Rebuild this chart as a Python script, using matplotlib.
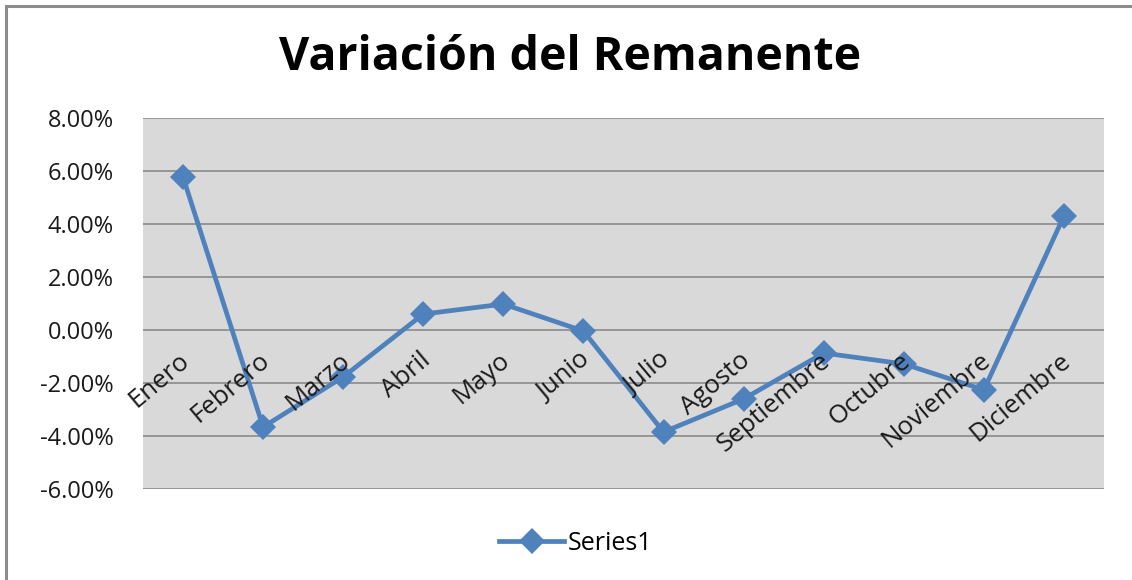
import matplotlib.pyplot as plt
from matplotlib.patches import Rectangle
from matplotlib.ticker import PercentFormatter
from matplotlib.lines import Line2D

# datos
meses = ["Enero", "Febrero", "Marzo", "Abril", "Mayo", "Junio", "Julio",
         "Agosto", "Septiembre", "Octubre", "Noviembre", "Diciembre"]
variacion = [5.77, -3.66, -1.77, 0.60, 0.98, -0.04, -3.85,
             -2.60, -0.87, -1.28, -2.26, 4.30]
y_ticks = [-6, -4, -2, 0, 2, 4, 6, 8]

azul = "#4F81BD"
plt.rcParams['font.family'] = ['Open Sans', 'DejaVu Sans']
plt.rcParams['axes.unicode_minus'] = False

fig = plt.figure(figsize=(11.32, 5.8), dpi=100)
ax = fig.add_axes([143 / 1132, 1 - 489 / 580, (1104 - 143) / 1132, (489 - 118) / 580])

# marco del grafico
fig.patches.append(Rectangle((6 / 1132, -0.2), 1.2, 1.2 - 6 / 580,
                             transform=fig.transFigure, fill=False,
                             edgecolor="#8c8c8c", linewidth=2.2))

ax.set_facecolor("#D9D9D9")
x = list(range(len(meses)))
ax.plot(x, variacion, color=azul, linewidth=3.4, marker="D", markersize=13,
        markeredgewidth=0, zorder=3)

ax.set_xlim(-0.5, len(meses) - 0.5)
ax.set_ylim(-6, 8)
ax.set_yticks(y_ticks)
ax.yaxis.set_major_formatter(PercentFormatter(decimals=2))
ax.tick_params(axis='y', length=0, pad=21, labelsize=17, colors="#1a1a1a")
ax.set_xticks([])
ax.grid(axis='y', color="#8a8a8a", linewidth=1.2, zorder=1)
ax.set_axisbelow(True)
for s in ax.spines.values():
    s.set_visible(False)

# etiquetas de categoria junto al eje en 0 (encima de la linea, como en Excel)
for i, m in enumerate(meses):
    ax.annotate(m, xy=(i, 0), xytext=(-3, -13), textcoords="offset points",
                rotation=40, rotation_mode="anchor", ha="right", va="top",
                fontsize=18.5, color="#1a1a1a", zorder=4)

fig.text(570 / 1132, 1 - 58 / 580, "Variación del Remanente", ha="center",
         va="center", fontsize=33.5, fontweight="bold", color="black")

handle = Line2D([], [], color=azul, linewidth=3.4, marker="D", markersize=13,
                markeredgewidth=0)
fig.legend([handle], ["Series1"], loc="center", bbox_to_anchor=(576 / 1132, 1 - 543 / 580),
           frameon=False, fontsize=18, handlelength=2.6, handletextpad=0.15)

fig.savefig("out.png", dpi=100)
